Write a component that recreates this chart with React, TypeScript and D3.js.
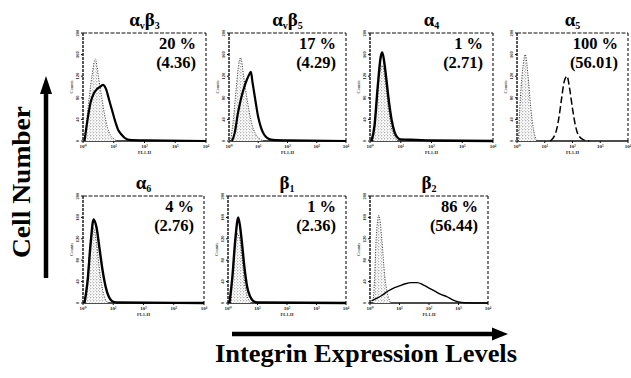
import React from "react";
import * as d3 from "d3";

// ---------- DATA ----------
// Panel titles: main letter + subscript (optional second part)
const titleLetterA = ["α", "α", "α", "α", "α", "β", "β"];
const titleSubA = ["v", "v", "4", "5", "6", "1", "2"];
const titleLetterB = ["β", "β", "", "", "", "", ""];
const titleSubB = ["3", "5", "", "", "", "", ""];

const percentLabels = ["20 %", "17 %", "1 %", "100 %", "4 %", "1 %", "86 %"];
const meanLabels = ["(4.36)", "(4.29)", "(2.71)", "(56.01)", "(2.76)", "(2.36)", "(56.44)"];

const xTickLabels = ["10⁰", "10¹", "10²", "10³", "10⁴"];
const yTickLabels = ["0", "40", "80", "120", "160", "200"];

// Histograms: [log10 FL1-H, relative count (% of axis)]
const ctrlAvB3 = [[0.02, 0], [0.1, 15], [0.2, 40], [0.3, 62], [0.4, 76], [0.45, 70], [0.5, 60], [0.6, 42], [0.7, 25], [0.8, 12], [0.9, 5], [1.0, 2], [1.1, 0]];
const sampAvB3 = [[0.05, 0], [0.15, 20], [0.25, 36], [0.35, 44], [0.45, 48], [0.55, 50], [0.65, 52], [0.75, 48], [0.85, 38], [0.95, 28], [1.05, 18], [1.15, 10], [1.25, 6], [1.35, 3], [1.5, 1], [2.0, 0.5], [4.0, 0]];

const ctrlAvB5 = [[0.05, 0], [0.15, 20], [0.25, 50], [0.35, 74], [0.4, 77], [0.5, 60], [0.6, 42], [0.7, 26], [0.8, 14], [0.9, 7], [1.0, 3], [1.2, 0]];
const sampAvB5 = [[0.1, 0], [0.2, 8], [0.3, 25], [0.4, 38], [0.5, 48], [0.6, 56], [0.7, 62], [0.75, 64], [0.8, 55], [0.9, 38], [1.0, 22], [1.1, 12], [1.2, 6], [1.3, 3], [1.5, 1], [2.0, 0.5], [4.0, 0]];

const ctrlA4 = [[0.1, 0], [0.2, 30], [0.3, 60], [0.4, 70], [0.5, 55], [0.6, 30], [0.7, 12], [0.8, 4], [0.9, 0]];
const sampA4 = [[0.05, 0], [0.15, 15], [0.25, 50], [0.35, 78], [0.4, 82], [0.5, 65], [0.6, 40], [0.7, 20], [0.8, 8], [0.9, 3], [1.0, 1.5], [1.5, 1], [2.0, 0.5], [4.0, 0]];

const ctrlA5 = [[0.05, 0], [0.1, 30], [0.2, 65], [0.3, 80], [0.4, 60], [0.5, 30], [0.6, 10], [0.7, 0]];
const sampA5 = [[1.2, 0], [1.4, 8], [1.5, 20], [1.6, 38], [1.7, 55], [1.8, 60], [1.9, 48], [2.0, 30], [2.1, 15], [2.2, 6], [2.4, 1], [2.6, 0]];

const ctrlA6 = [[0.05, 0], [0.15, 25], [0.25, 55], [0.35, 70], [0.45, 55], [0.55, 30], [0.65, 12], [0.75, 3], [0.85, 0]];
const sampA6 = [[0.05, 0], [0.15, 20], [0.25, 55], [0.35, 78], [0.45, 70], [0.55, 50], [0.65, 30], [0.75, 15], [0.85, 6], [0.95, 2], [1.1, 0.5], [4.0, 0]];

const ctrlB1 = [[0.1, 0], [0.2, 40], [0.3, 65], [0.4, 60], [0.5, 35], [0.6, 12], [0.7, 3], [0.8, 0]];
const sampB1 = [[0.05, 0], [0.15, 25], [0.25, 60], [0.35, 80], [0.45, 62], [0.55, 35], [0.65, 15], [0.75, 6], [0.85, 2], [1.0, 0.5], [4.0, 0]];

const ctrlB2 = [[0.1, 0], [0.15, 20], [0.2, 55], [0.3, 82], [0.4, 60], [0.5, 25], [0.6, 8], [0.7, 0]];
const sampB2 = [[0.05, 2], [0.2, 4], [0.4, 7], [0.6, 11], [0.8, 14], [1.0, 16], [1.2, 18], [1.4, 19], [1.6, 19], [1.8, 17], [2.0, 14], [2.2, 11], [2.4, 8], [2.6, 6], [2.8, 3], [3.0, 1], [3.2, 0.3], [4.0, 0]];

const controlSeries = [ctrlAvB3, ctrlAvB5, ctrlA4, ctrlA5, ctrlA6, ctrlB1, ctrlB2];
const sampleSeries = [sampAvB3, sampAvB5, sampA4, sampA5, sampA6, sampB1, sampB2];

// ---------- LAYOUT ----------
const W = 631;
const H = 378;
const boxes = [
  { x: 83, y: 33, w: 123, h: 108 },
  { x: 229, y: 33, w: 117, h: 108 },
  { x: 370, y: 33, w: 123, h: 108 },
  { x: 517, y: 33, w: 111, h: 108 },
  { x: 83, y: 196, w: 121, h: 107 },
  { x: 228, y: 196, w: 118, h: 107 },
  { x: 370, y: 196, w: 118, h: 107 },
];
const sampleStyle = [
  { w: 2.2, dash: "" },
  { w: 2.2, dash: "" },
  { w: 2.4, dash: "" },
  { w: 1.5, dash: "7,3" },
  { w: 2.4, dash: "" },
  { w: 2.4, dash: "" },
  { w: 1.4, dash: "" },
];
const serif = "'Liberation Serif', 'DejaVu Serif', Times, serif";

function Panel({ i }: { i: number }) {
  const b = boxes[i];
  const x = d3.scaleLinear().domain([0, 4]).range([b.x, b.x + b.w]);
  const y = d3.scaleLinear().domain([0, 100]).range([b.y + b.h, b.y]);
  const line = d3
    .line<number[]>()
    .x((d) => x(d[0]))
    .y((d) => y(d[1]))
    .curve(d3.curveMonotoneX);
  const area = d3
    .area<number[]>()
    .x((d) => x(d[0]))
    .y0(y(0))
    .y1((d) => y(d[1]))
    .curve(d3.curveMonotoneX);
  const ctrl = controlSeries[i];
  const samp = sampleSeries[i];
  const st = sampleStyle[i];
  const yTicks = d3.range(yTickLabels.length);
  const cx = b.x + b.w / 2;
  return (
    <g>
      {/* title */}
      <text
        x={cx}
        y={b.y - 7}
        textAnchor="middle"
        fontFamily={serif}
        fontWeight="bold"
        fontSize={19}
        fill="#000"
      >
        {titleLetterA[i]}
        <tspan fontSize={10} dy={3}>{titleSubA[i]}</tspan>
        {titleLetterB[i] ? (
          <>
            <tspan dy={-3}>{titleLetterB[i]}</tspan>
            <tspan fontSize={10} dy={3}>{titleSubB[i]}</tspan>
          </>
        ) : null}
      </text>
      {/* frame */}
      <line x1={b.x} x2={b.x + b.w} y1={b.y} y2={b.y} stroke="#111" strokeWidth={1.2} strokeDasharray="4,1.5" />
      <line x1={b.x + b.w} x2={b.x + b.w} y1={b.y} y2={b.y + b.h} stroke="#111" strokeWidth={1.1} strokeDasharray="3,2" />
      <line x1={b.x} x2={b.x} y1={b.y} y2={b.y + b.h} stroke="#111" strokeWidth={1.4} strokeDasharray="3,1" />
      <line x1={b.x} x2={b.x + b.w} y1={b.y + b.h} y2={b.y + b.h} stroke="#111" strokeWidth={1.4} />
      {/* y ticks */}
      {yTicks.map((k) => {
        const yy = b.y + b.h - (k * b.h) / (yTickLabels.length - 1);
        return (
          <g key={k}>
            <line x1={b.x - 2} x2={b.x} y1={yy} y2={yy} stroke="#111" strokeWidth={1} />
            <text
              transform={`translate(${b.x - 4},${yy}) rotate(-90)`}
              textAnchor="middle"
              fontFamily={serif}
              fontSize={4.5}
              fontWeight="bold"
              fill="#222"
            >
              {yTickLabels[k]}
            </text>
          </g>
        );
      })}
      <text
        transform={`translate(${b.x - 10},${b.y + b.h / 2}) rotate(-90)`}
        textAnchor="middle"
        fontFamily={serif}
        fontSize={4.5}
        fill="#222"
      >
        Counts
      </text>
      {/* x ticks */}
      {xTickLabels.map((t, k) => (
        <g key={t}>
          <line x1={x(k)} x2={x(k)} y1={b.y + b.h} y2={b.y + b.h + 2} stroke="#111" />
          <text x={x(k)} y={b.y + b.h + 7} textAnchor="middle" fontFamily={serif} fontSize={5} fontWeight="bold" fill="#222">
            {t}
          </text>
        </g>
      ))}
      <text x={cx} y={b.y + b.h + 13} textAnchor="middle" fontFamily={serif} fontSize={4.5} fontWeight="bold" fill="#222">
        FL1-H
      </text>
      {/* control histogram */}
      <path d={area(ctrl) || ""} fill="url(#stipple)" stroke="none" />
      <path d={line(ctrl) || ""} fill="none" stroke="#333" strokeWidth={1} strokeDasharray="1,1.5" />
      {/* sample histogram */}
      <path
        d={line(samp) || ""}
        fill="none"
        stroke="#000"
        strokeWidth={st.w}
        strokeDasharray={st.dash || undefined}
        strokeLinejoin="round"
      />
      {/* stats */}
      <text x={b.x + b.w - 10} y={b.y + 16} textAnchor="end" fontFamily={serif} fontWeight="bold" fontSize={16.5} fill="#000">
        {percentLabels[i]}
      </text>
      <text x={b.x + b.w - 10} y={b.y + 35} textAnchor="end" fontFamily={serif} fontWeight="bold" fontSize={16.5} fill="#000">
        {meanLabels[i]}
      </text>
    </g>
  );
}

export default function App() {
  return (
    <svg
      width={W}
      height={H}
      viewBox={`0 0 ${W} ${H}`}
      style={{ position: "absolute", left: 0, top: 0, background: "#fff" }}
    >
      <defs>
        <pattern id="stipple" width="3" height="3" patternUnits="userSpaceOnUse">
          <rect width="3" height="3" fill="#fff" />
          <circle cx="0.8" cy="0.8" r="0.55" fill="#555" />
          <circle cx="2.3" cy="2.2" r="0.45" fill="#888" />
        </pattern>
      </defs>
      <rect width={W} height={H} fill="#fff" />
      {boxes.map((_, i) => (
        <Panel key={i} i={i} />
      ))}
      {/* vertical arrow */}
      <line x1={46} x2={46} y1={278} y2={92} stroke="#000" strokeWidth={4.5} />
      <path d="M 40 94 L 46 76 L 52 94 Z" fill="#000" />
      <text
        transform="translate(30,182) rotate(-90)"
        textAnchor="middle"
        fontFamily={serif}
        fontWeight="bold"
        fontSize={25}
        textLength={152}
        lengthAdjust="spacingAndGlyphs"
        fill="#000"
      >
        Cell Number
      </text>
      {/* horizontal arrow */}
      <line x1={232} x2={494} y1={334} y2={334} stroke="#000" strokeWidth={4.5} />
      <path d="M 492 327.5 L 508 334 L 492 340.5 Z" fill="#000" />
      <text
        x={366}
        y={362}
        textAnchor="middle"
        fontFamily={serif}
        fontWeight="bold"
        fontSize={26}
        textLength={302}
        lengthAdjust="spacingAndGlyphs"
        fill="#000"
      >
        Integrin Expression Levels
      </text>
    </svg>
  );
}
